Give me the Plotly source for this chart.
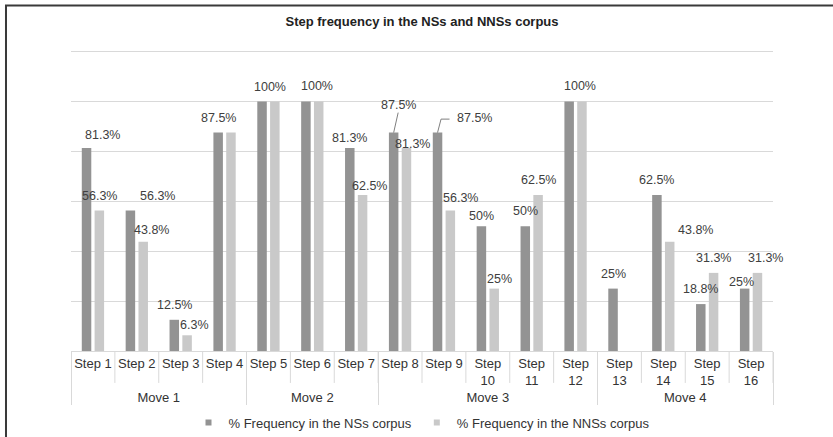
import plotly.graph_objects as go

# ---- data ----
steps = ["Step 1", "Step 2", "Step 3", "Step 4", "Step 5", "Step 6", "Step 7", "Step 8",
         "Step 9", "Step 10", "Step 11", "Step 12", "Step 13", "Step 14", "Step 15", "Step 16"]
moves = ["Move 1"] * 4 + ["Move 2"] * 3 + ["Move 3"] * 5 + ["Move 4"] * 4
ns_freq = [81.3, 56.3, 12.5, 87.5, 100, 100, 81.3, 87.5, 87.5, 50, 50, 100, 25, 62.5, 18.8, 25]
nns_freq = [56.3, 43.8, 6.3, 87.5, 100, 100, 62.5, 81.3, 56.3, 25, 62.5, 100, 0, 43.8, 31.3, 31.3]
series_names = ["% Frequency in the NSs corpus", "% Frequency in the NNSs corpus"]

# ---- label placement (pixel nudges: dx, dy up); None = label hidden ----
ns_nudge = [(16, -2), (27, -1), (0, 0), (0, 0), (8, -1), (11, 0), (0, -5), (5, 13),
            (37, 0), (0, -5), (0, 0), (11, 0), (0, 0), (0, 0), (0, 0), (-3, -8)]
nns_nudge = [(0, -1), (8, -3), (7, -5), None, None, None, (7, -6), (6, -11),
             (10, -3), (5, -5), (0, 0), None, None, (26, -3), (0, 0), (8, 0)]

DARK = "#939393"
LIGHT = "#c9c9c9"
GRID = "#d9d9d9"
FONT = "Liberation Sans, Arial, sans-serif"

BARGAP = 0.4165
GROUPGAP = 0.258
PLOT_H = 302.5

tick_steps = [s.replace(" ", "<br>") if len(s) > 6 else s for s in steps]
xcat = [moves, tick_steps]

fig = go.Figure()
for name, vals, col in [(series_names[0], ns_freq, DARK), (series_names[1], nns_freq, LIGHT)]:
    fig.add_trace(go.Bar(x=xcat, y=vals, name=name, marker=dict(color=col, line=dict(width=0)),
                         showlegend=False, hoverinfo="y"))
# legend entries with small square markers
for name, col in [(series_names[0], DARK), (series_names[1], LIGHT)]:
    fig.add_trace(go.Scatter(x=[None], y=[None], mode="markers", name=name, xaxis="x2",
                             marker=dict(symbol="square", size=6, color=col), showlegend=True))

n = len(steps)
off = (1 - BARGAP) / 4.0
annotations = []
shapes = []
for series, nudges, sign in [(ns_freq, ns_nudge, -1), (nns_freq, nns_nudge, 1)]:
    for i, (v, nd) in enumerate(zip(series, nudges)):
        if nd is None or v == 0:
            continue
        annotations.append(dict(
            x=i + sign * off, y=v, xref="x2", yref="y", text=f"{v:g}%", showarrow=False,
            xanchor="center", yanchor="middle", xshift=nd[0], yshift=15 + nd[1],
            font=dict(family=FONT, size=12.5, color="#404040")))

# leader lines for Step 8 and Step 9 NS labels
shapes.append(dict(type="path", xref="x2", yref="y", xsizemode="pixel", ysizemode="pixel",
                   xanchor=7 + -off, yanchor=ns_freq[7], path="M0,0 L4.5,20",
                   line=dict(color="#7f7f7f", width=1)))
shapes.append(dict(type="path", xref="x2", yref="y", xsizemode="pixel", ysizemode="pixel",
                   xanchor=8 + -off, yanchor=ns_freq[8], path="M0,0 L3.5,13.5 L12,13.5",
                   line=dict(color="#7f7f7f", width=1)))

# step dividers below axis
for b in range(n + 1):
    shapes.append(dict(type="line", xref="x2", yref="paper", x0=b - 0.5, x1=b - 0.5,
                       y0=0, y1=-32 / PLOT_H, line=dict(color=GRID, width=1)))

# outer frame
shapes.append(dict(type="rect", xref="paper", yref="paper", x0=-0.0926, x1=1.3, y0=-0.6,
                   y1=346 / PLOT_H, line=dict(color="#3a3a3a", width=2), layer="above"))

fig.update_layout(
    width=833, height=437,
    margin=dict(l=71, r=60, t=437 - 86 - PLOT_H, b=86, pad=0, autoexpand=False),
    paper_bgcolor="white", plot_bgcolor="white",
    barmode="group", bargap=BARGAP, bargroupgap=GROUPGAP,
    title=dict(text="<b>Step frequency in the NSs and NNSs corpus</b>", x=0.5, xref="paper",
               xanchor="center", y=1 - 21.7 / 437, yref="container", yanchor="middle",
               font=dict(family=FONT, size=13, color="#222222"), automargin=False),
    font=dict(family=FONT, size=13, color="#333333"),
    xaxis=dict(type="multicategory", showline=True, linecolor=GRID, linewidth=1,
               ticks="", showgrid=False, showdividers=True, dividercolor=GRID, dividerwidth=1,
               tickangle=0, automargin=False,
               tickfont=dict(family=FONT, size=13, color="#333333")),
    xaxis2=dict(overlaying="x", range=[-0.5, n - 0.5], visible=False, showgrid=False),
    yaxis=dict(range=[0, 121], tickvals=[20, 40, 60, 80, 100, 120], showgrid=True,
               gridcolor=GRID, gridwidth=1,
               showticklabels=False, zeroline=False, showline=False, automargin=False),
    legend=dict(orientation="h", x=0.5, xanchor="center", y=-71.7 / PLOT_H, yanchor="middle",
                font=dict(family=FONT, size=13, color="#333333"), bgcolor="rgba(0,0,0,0)"),
    annotations=annotations,
    shapes=shapes,
)

fig.write_html("out.html", config={"displayModeBar": False},
               post_script="document.body.style.margin='0';document.body.style.overflow='hidden';")
